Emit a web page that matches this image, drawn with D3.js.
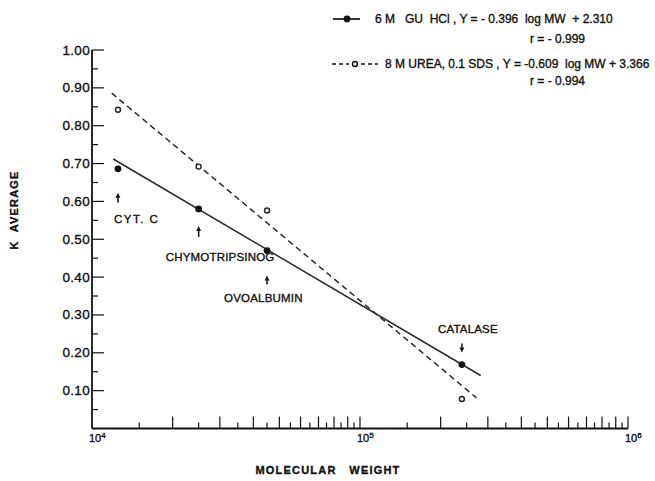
<!DOCTYPE html>
<html>
<head>
<meta charset="utf-8">
<script src="https://cdn.jsdelivr.net/npm/d3@7"></script>
<style>
    body { margin: 0; background: #fff; }
    text { font-family: "Liberation Sans", Arial, sans-serif; fill: #111; stroke: #111; stroke-width: 0.35px; }
    .text-small { font-size: 12px; }
</style>
</head>
<body>
<div id="chart"></div>
<script>
//----------------------------
// Data
//----------------------------
var proteins = ["CYT. C", "CHYMOTRIPSINOG", "OVOALBUMIN", "CATALASE"];
var molWeight = [12500, 25000, 45000, 240000];
var kGuHcl = [0.686, 0.580, 0.470, 0.169];     // filled dots
var kUreaSds = [0.842, 0.692, 0.576, 0.078];   // open dots

// fitted lines as drawn (end points)
var guHclFitMW = [12000, 282000];
var guHclFitK = [0.712, 0.140];
var ureaFitMW = [11850, 272000];
var ureaFitK = [0.886, 0.081];

var yTicks = [0.1, 0.2, 0.3, 0.4, 0.5, 0.6, 0.7, 0.8, 0.9, 1.0];
var yTickLabels = ["0.10", "0.20", "0.30", "0.40", "0.50", "0.60", "0.70", "0.80", "0.90", "1.00"];
var xDecades = [1e4, 1e5, 1e6];
var xDecadeExp = ["4", "5", "6"];

var legendLines = ["6 M   GU  HCl , Y = - 0.396  log MW  + 2.310", "8 M UREA, 0.1 SDS , Y = -0.609  log MW + 3.366"];
var legendR = ["r = - 0.999", "r = - 0.994"];

//----------------------------
// Svg and scales
//----------------------------
var width = 655, height = 481;

var svg = d3.select("#chart")
    .append("svg")
    .attr("width", width)
    .attr("height", height);

var xScale = d3.scaleLog()
    .domain([1e4, 1e6])
    .range([92, 628]);

var yScale = d3.scaleLinear()
    .domain([0, 1])
    .range([428.5, 50]);

var axisColor = "#111";

//----------------------------
// Axes
//----------------------------
// y axis line and ticks (pointing inwards)
svg.append("line")
    .attr("x1", xScale(1e4)).attr("x2", xScale(1e4))
    .attr("y1", yScale(1)).attr("y2", yScale(0))
    .attr("stroke", axisColor).attr("stroke-width", 1.8);

var yMinor = yTicks.map(d => +(d - 0.05).toFixed(2));
svg.selectAll(".ytick")
    .data(yTicks.concat(yMinor))
    .enter().append("line")
    .attr("class", "ytick")
    .attr("x1", xScale(1e4))
    .attr("x2", (d, i) => xScale(1e4) + (i < yTicks.length ? 12 : 6))
    .attr("y1", d => yScale(d)).attr("y2", d => yScale(d))
    .attr("stroke", axisColor).attr("stroke-width", 1.2);

svg.selectAll(".ylabel")
    .data(yTicks)
    .enter().append("text")
    .attr("class", "ylabel")
    .attr("x", xScale(1e4) - 2)
    .attr("y", d => yScale(d) + 4.5)
    .attr("text-anchor", "end")
    .style("font-size", "13.5px")
    .style("letter-spacing", "0.3px")
    .text((d, i) => yTickLabels[i]);

// x axis line and ticks (pointing upwards)
svg.append("line")
    .attr("x1", xScale(1e4)).attr("x2", xScale(1e6))
    .attr("y1", yScale(0)).attr("y2", yScale(0))
    .attr("stroke", axisColor).attr("stroke-width", 1.8);

var xTicks = [];
[1e4, 1e5].forEach(function (dec) {
    for (var m = 1.5; m <= 10; m += 0.5) {
        xTicks.push({value: dec * m, major: m % 1 === 0});
    }
});

svg.selectAll(".xtick")
    .data(xTicks)
    .enter().append("line")
    .attr("class", "xtick")
    .attr("x1", d => xScale(d.value)).attr("x2", d => xScale(d.value))
    .attr("y1", yScale(0))
    .attr("y2", d => yScale(0) - (d.major ? 12 : 6))
    .attr("stroke", axisColor).attr("stroke-width", 1.2);

var xLabel = svg.selectAll(".xlabel")
    .data(xDecades)
    .enter().append("text")
    .attr("class", "xlabel")
    .attr("x", d => xScale(d) - 3)
    .attr("y", yScale(0) + 13)
    .style("font-size", "11px");
xLabel.append("tspan").text("10");
xLabel.append("tspan")
    .attr("dy", -4)
    .style("font-size", "8px")
    .text((d, i) => xDecadeExp[i]);

// axis titles
svg.append("text")
    .attr("x", 328)
    .attr("y", 474)
    .attr("text-anchor", "middle")
    .style("font-size", "11px")
    .style("font-weight", "bold")
    .style("letter-spacing", "1.2px")
    .attr("xml:space", "preserve")
    .text("MOLECULAR   WEIGHT");

svg.append("text")
    .attr("transform", "translate(18,210) rotate(-90)")
    .attr("text-anchor", "middle")
    .style("font-size", "11px")
    .style("font-weight", "bold")
    .style("letter-spacing", "1.2px")
    .attr("xml:space", "preserve")
    .text("K  AVERAGE");

//----------------------------
// Fitted lines
//----------------------------
var line = d3.line()
    .x(d => xScale(d[0]))
    .y(d => yScale(d[1]));

svg.append("path")
    .attr("d", line(d3.zip(guHclFitMW, guHclFitK)))
    .attr("fill", "none")
    .attr("stroke", "#2a2a2a")
    .attr("stroke-width", 1.5);

svg.append("path")
    .attr("d", line(d3.zip(ureaFitMW, ureaFitK)))
    .attr("fill", "none")
    .attr("stroke", "#2a2a2a")
    .attr("stroke-width", 1.5)
    .attr("stroke-dasharray", "6,4");

//----------------------------
// Points
//----------------------------
svg.selectAll(".dotFilled")
    .data(molWeight)
    .enter().append("circle")
    .attr("class", "dotFilled")
    .attr("cx", d => xScale(d))
    .attr("cy", (d, i) => yScale(kGuHcl[i]))
    .attr("r", 3.4)
    .attr("fill", "#111");

svg.selectAll(".dotOpen")
    .data(molWeight)
    .enter().append("circle")
    .attr("class", "dotOpen")
    .attr("cx", d => xScale(d))
    .attr("cy", (d, i) => yScale(kUreaSds[i]))
    .attr("r", 2.5)
    .attr("fill", "#fff")
    .attr("stroke", "#222")
    .attr("stroke-width", 1.4);

//----------------------------
// Protein labels with arrows
//----------------------------
// offsets from the filled dot: label start, label baseline, arrow tip, arrow tail
var annot = [
    {dx: -4, dy: 54, tip: 24, tail: 34},
    {dx: -33, dy: 52, tip: 17, tail: 28},
    {dx: -43, dy: 51, tip: 25, tail: 34},
    {dx: -24, dy: -32, tip: -12, tail: -21}
];

proteins.forEach(function (name, i) {
    var px = xScale(molWeight[i]), py = yScale(kGuHcl[i]);
    var a = annot[i];
    var dir = a.tip > a.tail ? 1 : -1;   // +1 = pointing down

    svg.append("line")
        .attr("x1", px).attr("x2", px)
        .attr("y1", py + a.tail).attr("y2", py + a.tip - dir * 3)
        .attr("stroke", "#111").attr("stroke-width", 1.5);

    svg.append("path")
        .attr("d", "M" + px + "," + (py + a.tip) +
            "L" + (px - 2.4) + "," + (py + a.tip - dir * 5) +
            "L" + (px + 2.4) + "," + (py + a.tip - dir * 5) + "Z")
        .attr("fill", "#111");

    svg.append("text")
        .attr("x", px + a.dx)
        .attr("y", py + a.dy)
        .style("font-size", "11.5px")
        .style("letter-spacing", i === 0 ? "1.5px" : "0.2px")
        .text(name);
});

//----------------------------
// Legend
//----------------------------
var legend = svg.append("g").attr("class", "legend");

legend.append("line")
    .attr("x1", 333).attr("x2", 360).attr("y1", 19).attr("y2", 19)
    .attr("stroke", "#111").attr("stroke-width", 1.7);
legend.append("circle")
    .attr("cx", 347).attr("cy", 19).attr("r", 3.4).attr("fill", "#111");

legend.append("line")
    .attr("x1", 332).attr("x2", 349).attr("y1", 64).attr("y2", 64)
    .attr("stroke", "#111").attr("stroke-width", 1.5)
    .attr("stroke-dasharray", "4,3");
legend.append("line")
    .attr("x1", 361).attr("x2", 378).attr("y1", 64).attr("y2", 64)
    .attr("stroke", "#111").attr("stroke-width", 1.5)
    .attr("stroke-dasharray", "4,3");
legend.append("circle")
    .attr("cx", 355).attr("cy", 64).attr("r", 2.5)
    .attr("fill", "#fff").attr("stroke", "#111").attr("stroke-width", 1.4);

legend.selectAll(".legText")
    .data(legendLines)
    .enter().append("text")
    .attr("class", "legText text-small")
    .attr("x", (d, i) => i === 0 ? 375 : 385)
    .attr("y", (d, i) => i === 0 ? 23 : 68)
    .attr("xml:space", "preserve")
    .text(d => d);

legend.selectAll(".legR")
    .data(legendR)
    .enter().append("text")
    .attr("class", "legR text-small")
    .attr("x", 530)
    .attr("y", (d, i) => i === 0 ? 43 : 85)
    .attr("xml:space", "preserve")
    .text(d => d);
</script>
</body>
</html>
